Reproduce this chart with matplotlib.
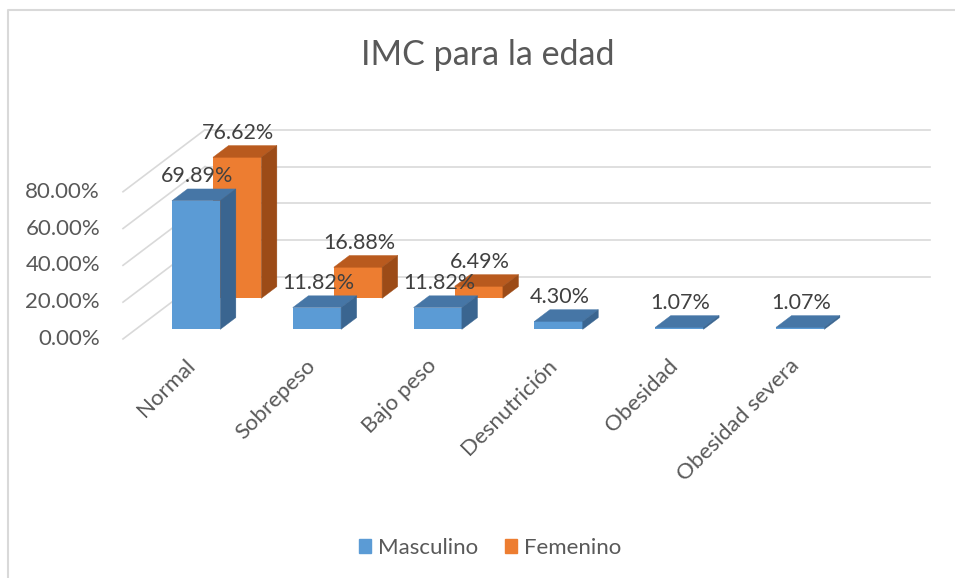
import matplotlib.pyplot as plt
from matplotlib.patches import Polygon, Patch
from matplotlib.lines import Line2D

plt.rcParams['font.family'] = ['Lato', 'DejaVu Sans']

# Data
categorias = ["Normal", "Sobrepeso", "Bajo peso", "Desnutrición", "Obesidad", "Obesidad severa"]
masculino = [69.89, 11.82, 11.82, 4.30, 1.07, 1.07]
femenino = [76.62, 16.88, 6.49, None, None, None]
ticks = [0, 20, 40, 60, 80]

# Oblique projection for the fake 3D look (depth z goes from 0 front to 1 back wall)
DX = 0.679   # category units
DY = 33.7    # percent units


def proj(x, y, z):
    return (x + z * DX, y + z * DY)


fig = plt.figure(figsize=(9.55, 5.78), dpi=100)
ax = fig.add_axes([0, 0, 1, 1])
ax.set_xlim(-1.518, 6.387)
ax.set_ylim(-129.9, 184.2)
ax.axis('off')

grid_col = '#D9D9D9'
n = len(categorias)

# back wall and side wall gridlines
for t in ticks:
    p0 = proj(-0.5, t, 1)
    p1 = proj(n - 0.5, t, 1)
    ax.plot([p0[0], p1[0]], [p0[1], p1[1]], color=grid_col, lw=1.2, zorder=1)
    q0 = proj(-0.5, t, 0)
    ax.plot([q0[0], p0[0]], [q0[1], p0[1]], color=grid_col, lw=1.2, zorder=1)
    ax.text(-0.69, t, f"{t:.2f}%", ha='right', va='center', fontsize=16, color='#595959')


def draw_bars(values, z0, z1, front, top, side, zo):
    w = 0.2
    for i, v in enumerate(values):
        if v is None:
            continue
        fx, fy = proj(i, 0, z0)
        ax.bar(fx, v, width=2 * w, bottom=fy, color=front, linewidth=0, zorder=zo)
        top_pts = [proj(i - w, v, z0), proj(i + w, v, z0), proj(i + w, v, z1), proj(i - w, v, z1)]
        side_pts = [proj(i + w, 0, z0), proj(i + w, v, z0), proj(i + w, v, z1), proj(i + w, 0, z1)]
        ax.add_patch(Polygon(top_pts, closed=True, facecolor=top, edgecolor=top, lw=0.3, zorder=zo))
        ax.add_patch(Polygon(side_pts, closed=True, facecolor=side, edgecolor=side, lw=0.3, zorder=zo))


draw_bars(femenino, 0.655, 0.845, '#ED7D31', '#B95A1E', '#9C4B17', 2)
draw_bars(masculino, 0.155, 0.345, '#5B9BD5', '#4676A6', '#3A6590', 3)

# data labels
for vals, z1 in [(femenino, 0.845), (masculino, 0.345)]:
    for i, v in enumerate(vals):
        if v is None:
            continue
        x0, _ = proj(i, 0, 0.155 if z1 < 0.5 else 0.655)
        _, yb = proj(i, v, z1)
        ax.text(x0 + 0.01, yb + 3.8, f"{v:.2f}%", ha='center', va='baseline',
                fontsize=15.5, color='#404040', zorder=5)

# category labels
for i, c in enumerate(categorias):
    ax.text(i + 0.07, -13, c, rotation=45, rotation_mode='anchor', ha='right', va='center',
            fontsize=16, color='#595959')

# title
fig.text(487.5 / 955, 1 - 65 / 578, "IMC para la edad", ha='center', va='baseline',
         fontsize=24.5, color='#595959')

# legend
handles = [Patch(color='#5B9BD5', label='Masculino'), Patch(color='#ED7D31', label='Femenino')]
fig.legend(handles=handles, loc='center', bbox_to_anchor=(490 / 955, 1 - 548 / 578), ncol=2,
           frameon=False, fontsize=16, handlelength=0.55, handleheight=0.55,
           handletextpad=0.3, columnspacing=1.2, labelcolor='#595959')

# chart area border (cut off on the right and bottom like the reference)
fig.add_artist(Line2D([8 / 955, 8 / 955, 1], [0, 1 - 10 / 578, 1 - 10 / 578],
                      transform=fig.transFigure, color='#D9D9D9', lw=1.5))

fig.savefig("out.png", dpi=100)
